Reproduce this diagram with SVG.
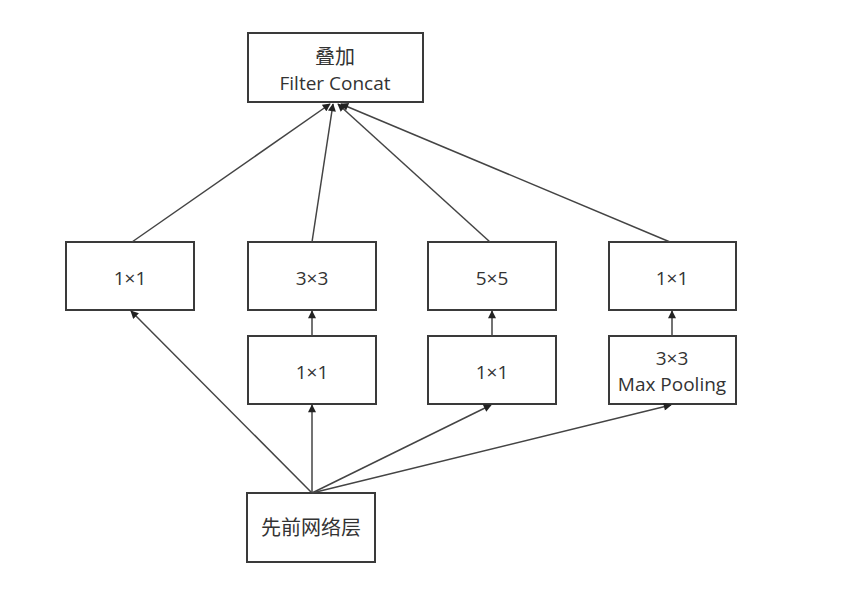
<svg xmlns="http://www.w3.org/2000/svg" width="860" height="594" viewBox="0 0 860 594">
<style>
.box{fill:#fff;stroke:#3a3a3a;stroke-width:2}
.t{font-family:"Open Sans","Noto Sans CJK SC",sans-serif;font-size:19px;fill:#333;text-anchor:middle}
.z{font-size:20px}
.c{stroke:#444;stroke-width:1.5;fill:none;marker-end:url(#a)}
</style>
<defs>
<marker id="a" viewBox="0 0 10 10" refX="9" refY="5" markerWidth="9" markerHeight="8" markerUnits="userSpaceOnUse" orient="auto"><path d="M0,0L10,5L0,10z" fill="#222"/></marker>
</defs>
<rect width="860" height="594" fill="#fff"/>
<g id="concat"><rect class="box" x="248" y="33" width="175" height="69"/><text class="t z" x="335" y="64">叠加</text><text class="t" x="335" y="90">Filter Concat</text></g>
<g id="c1"><rect class="box" x="66" y="242" width="128" height="68"/><text class="t" x="130" y="285">1×1</text></g>
<g id="c3"><rect class="box" x="248" y="242" width="128" height="68"/><text class="t" x="312" y="285">3×3</text></g>
<g id="c5"><rect class="box" x="428" y="242" width="128" height="68"/><text class="t" x="492" y="285">5×5</text></g>
<g id="c1b"><rect class="box" x="609" y="242" width="127" height="68"/><text class="t" x="672" y="285">1×1</text></g>
<g id="r3"><rect class="box" x="248" y="336" width="128" height="68"/><text class="t" x="312" y="379">1×1</text></g>
<g id="r5"><rect class="box" x="428" y="336" width="128" height="68"/><text class="t" x="492" y="379">1×1</text></g>
<g id="mp"><rect class="box" x="609" y="336" width="127" height="68"/><text class="t" x="672" y="365">3×3</text><text class="t" x="672" y="391">Max Pooling</text></g>
<g id="prev"><rect class="box" x="247" y="493" width="128" height="69"/><text class="t z" x="311" y="535">先前网络层</text></g>
<g id="connectors">
<path class="c" d="M132,242L330,104"/>
<path class="c" d="M312,242L333,104"/>
<path class="c" d="M490,242L338,104"/>
<path class="c" d="M670,242L341,104"/>
<path class="c" d="M312,336L312,311"/>
<path class="c" d="M492,336L492,311"/>
<path class="c" d="M672,336L672,311"/>
<path class="c" d="M312,493L131,311"/>
<path class="c" d="M312,493L312,405"/>
<path class="c" d="M312,493L491,405"/>
<path class="c" d="M312,493L671,405"/>
</g>
</svg>
